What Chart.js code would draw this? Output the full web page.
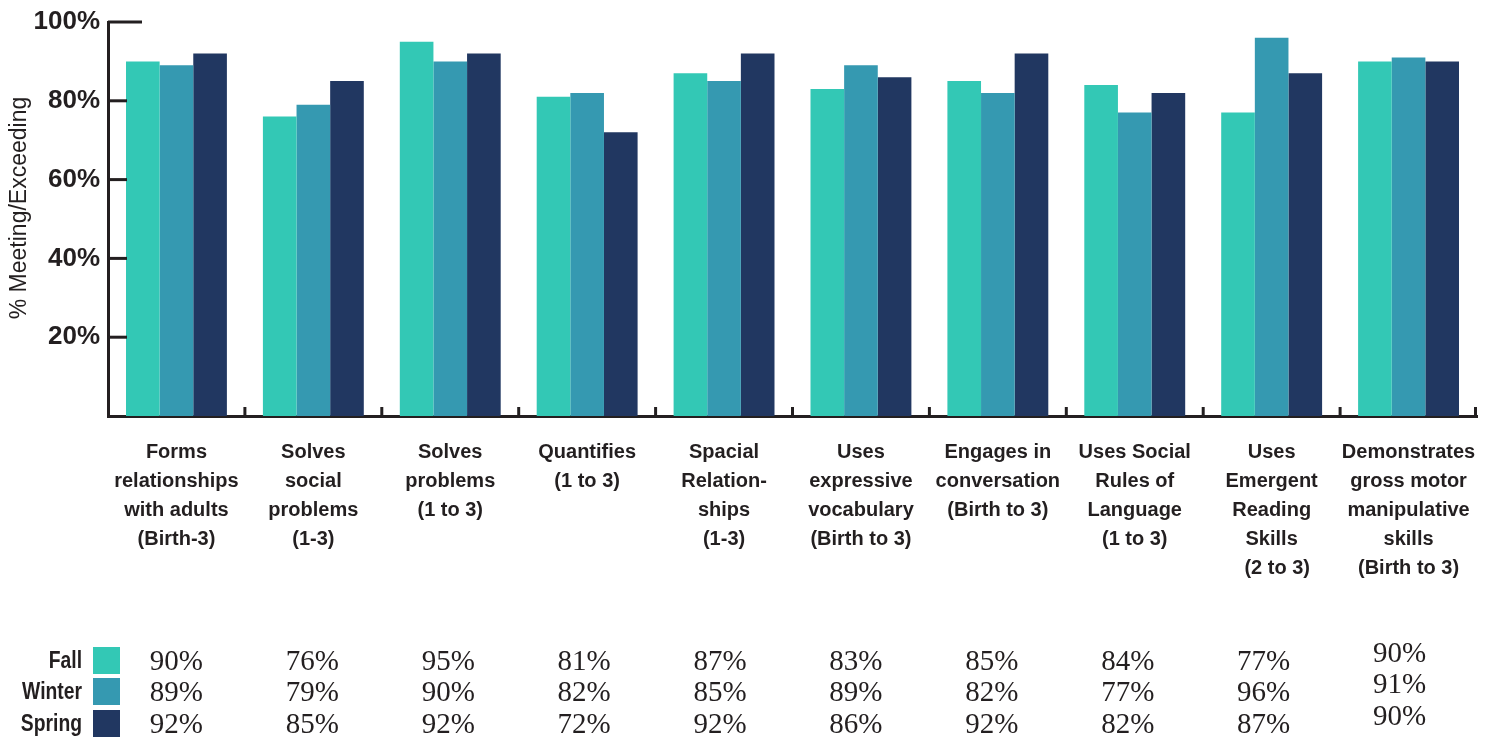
<!DOCTYPE html>
<html lang="en">
<head>
<meta charset="utf-8">
<title>Meeting/Exceeding</title>
<script src="https://cdn.jsdelivr.net/npm/chart.js@4.4.1/dist/chart.umd.min.js"></script>
<style>
  html, body { margin: 0; padding: 0; background: #fff; }
  #wrap { width: 1493px; height: 740px; }
</style>
</head>
<body>
<div id="wrap"><canvas id="chart"></canvas></div>
<script>
// categories (multi-line labels)
const categories = [
  ['Forms', 'relationships', 'with adults', '(Birth-3)'],
  ['Solves', 'social', 'problems', '(1-3)'],
  ['Solves', 'problems', '(1 to 3)'],
  ['Quantifies', '(1 to 3)'],
  ['Spacial', 'Relation-', 'ships', '(1-3)'],
  ['Uses', 'expressive', 'vocabulary', '(Birth to 3)'],
  ['Engages in', 'conversation', '(Birth to 3)'],
  ['Uses Social', 'Rules of', 'Language', '(1 to 3)'],
  ['Uses', 'Emergent', 'Reading', 'Skills', '  (2 to 3)'],
  ['Demonstrates', 'gross motor', 'manipulative', 'skills', '(Birth to 3)']
];
const seriesNames = ['Fall', 'Winter', 'Spring'];
const fall   = [90, 76, 95, 81, 87, 83, 85, 84, 77, 90];
const winter = [89, 79, 90, 82, 85, 89, 82, 77, 96, 91];
const spring = [92, 85, 92, 72, 92, 86, 92, 82, 87, 90];
const yTicks = [20, 40, 60, 80, 100];

const colors = ['#33c8b5', '#3599b1', '#213761'];
const ink = '#231f20';
const sans = "'Liberation Sans', Arial, sans-serif";

// y tick marks drawn inward, x category boundary ticks, y title and the data table
const extras = {
  id: 'extras',
  afterDraw(chart) {
    const ctx = chart.ctx;
    const x = chart.scales.x, y = chart.scales.y;
    const area = chart.chartArea;
    ctx.save();
    ctx.strokeStyle = ink;
    ctx.lineWidth = 3;
    yTicks.forEach(v => {
      const py = y.getPixelForValue(v);
      ctx.beginPath();
      ctx.moveTo(area.left, py);
      ctx.lineTo(area.left + (v === 100 ? 34 : 19), py);
      ctx.stroke();
    });
    for (let i = 1; i <= categories.length; i++) {
      const px = (x.getPixelForValue(i - 1) + x.getPixelForValue(i)) / 2;
      const bx = i === categories.length ? area.right - 1.5 : px;
      ctx.beginPath();
      ctx.moveTo(bx, area.bottom);
      ctx.lineTo(bx, area.bottom - 9);
      ctx.stroke();
    }

    // y axis title
    ctx.save();
    ctx.translate(20, 208);
    ctx.rotate(-Math.PI / 2);
    ctx.font = '23px ' + sans;
    ctx.fillStyle = ink;
    ctx.textAlign = 'center';
    ctx.textBaseline = 'middle';
    ctx.fillText('% Meeting/Exceeding', 0, 0);
    ctx.restore();

    // table
    const rowY = [662, 693, 725];
    const data = [fall, winter, spring];
    ctx.textBaseline = 'middle';
    seriesNames.forEach((name, r) => {
      ctx.save();
      ctx.translate(82, rowY[r]);
      ctx.scale(0.84, 1);
      ctx.font = 'bold 23px ' + sans;
      ctx.fillStyle = ink;
      ctx.textAlign = 'right';
      ctx.fillText(name, 0, 0);
      ctx.restore();
      ctx.fillStyle = colors[r];
      ctx.fillRect(93, rowY[r] - 15, 27, 27);
      ctx.font = "29px 'Liberation Serif', 'Times New Roman', serif";
      ctx.fillStyle = ink;
      ctx.textAlign = 'center';
      data[r].forEach((v, i) => {
        const px = x.getPixelForValue(i) - i;
        const py = rowY[r] - (i === 9 ? 8 : 0);
        ctx.fillText(v + '%', px, py);
      });
    });
    ctx.restore();
  }
};

new Chart(document.getElementById('chart'), {
  type: 'bar',
  data: {
    labels: categories,
    datasets: [
      { label: seriesNames[0], data: fall,   backgroundColor: colors[0] },
      { label: seriesNames[1], data: winter, backgroundColor: colors[1] },
      { label: seriesNames[2], data: spring, backgroundColor: colors[2] }
    ]
  },
  options: {
    responsive: true,
    maintainAspectRatio: false,
    animation: false,
    layout: { padding: { top: 22, right: 16, left: 0, bottom: 0 } },
    datasets: { bar: { categoryPercentage: 0.737, barPercentage: 1, borderWidth: 0 } },
    plugins: { legend: { display: false }, tooltip: { enabled: false } },
    scales: {
      x: {
        grid: { display: false, drawTicks: false },
        border: { display: true, color: ink, width: 3 },
        ticks: {
          color: ink,
          maxRotation: 0,
          autoSkip: false,
          padding: 22,
          font: { family: sans, size: 20, weight: 'bold', lineHeight: '29px' }
        },
        afterFit(scale) {
          scale.height = 324;
          scale.paddingLeft = 0;
          scale.paddingRight = 0;
        }
      },
      y: {
        min: 0, max: 100,
        grid: { display: false, drawTicks: false },
        border: { display: true, color: ink, width: 3 },
        ticks: {
          stepSize: 20,
          color: ink,
          padding: 8,
          font: { family: sans, size: 26, weight: 'bold' },
          callback: v => v === 0 ? '' : v + '%'
        },
        afterFit(scale) {
          scale.width = 108;
          scale.paddingTop = 0;
          scale.paddingBottom = 0;
        }
      }
    }
  },
  plugins: [extras]
});
</script>
</body>
</html>
